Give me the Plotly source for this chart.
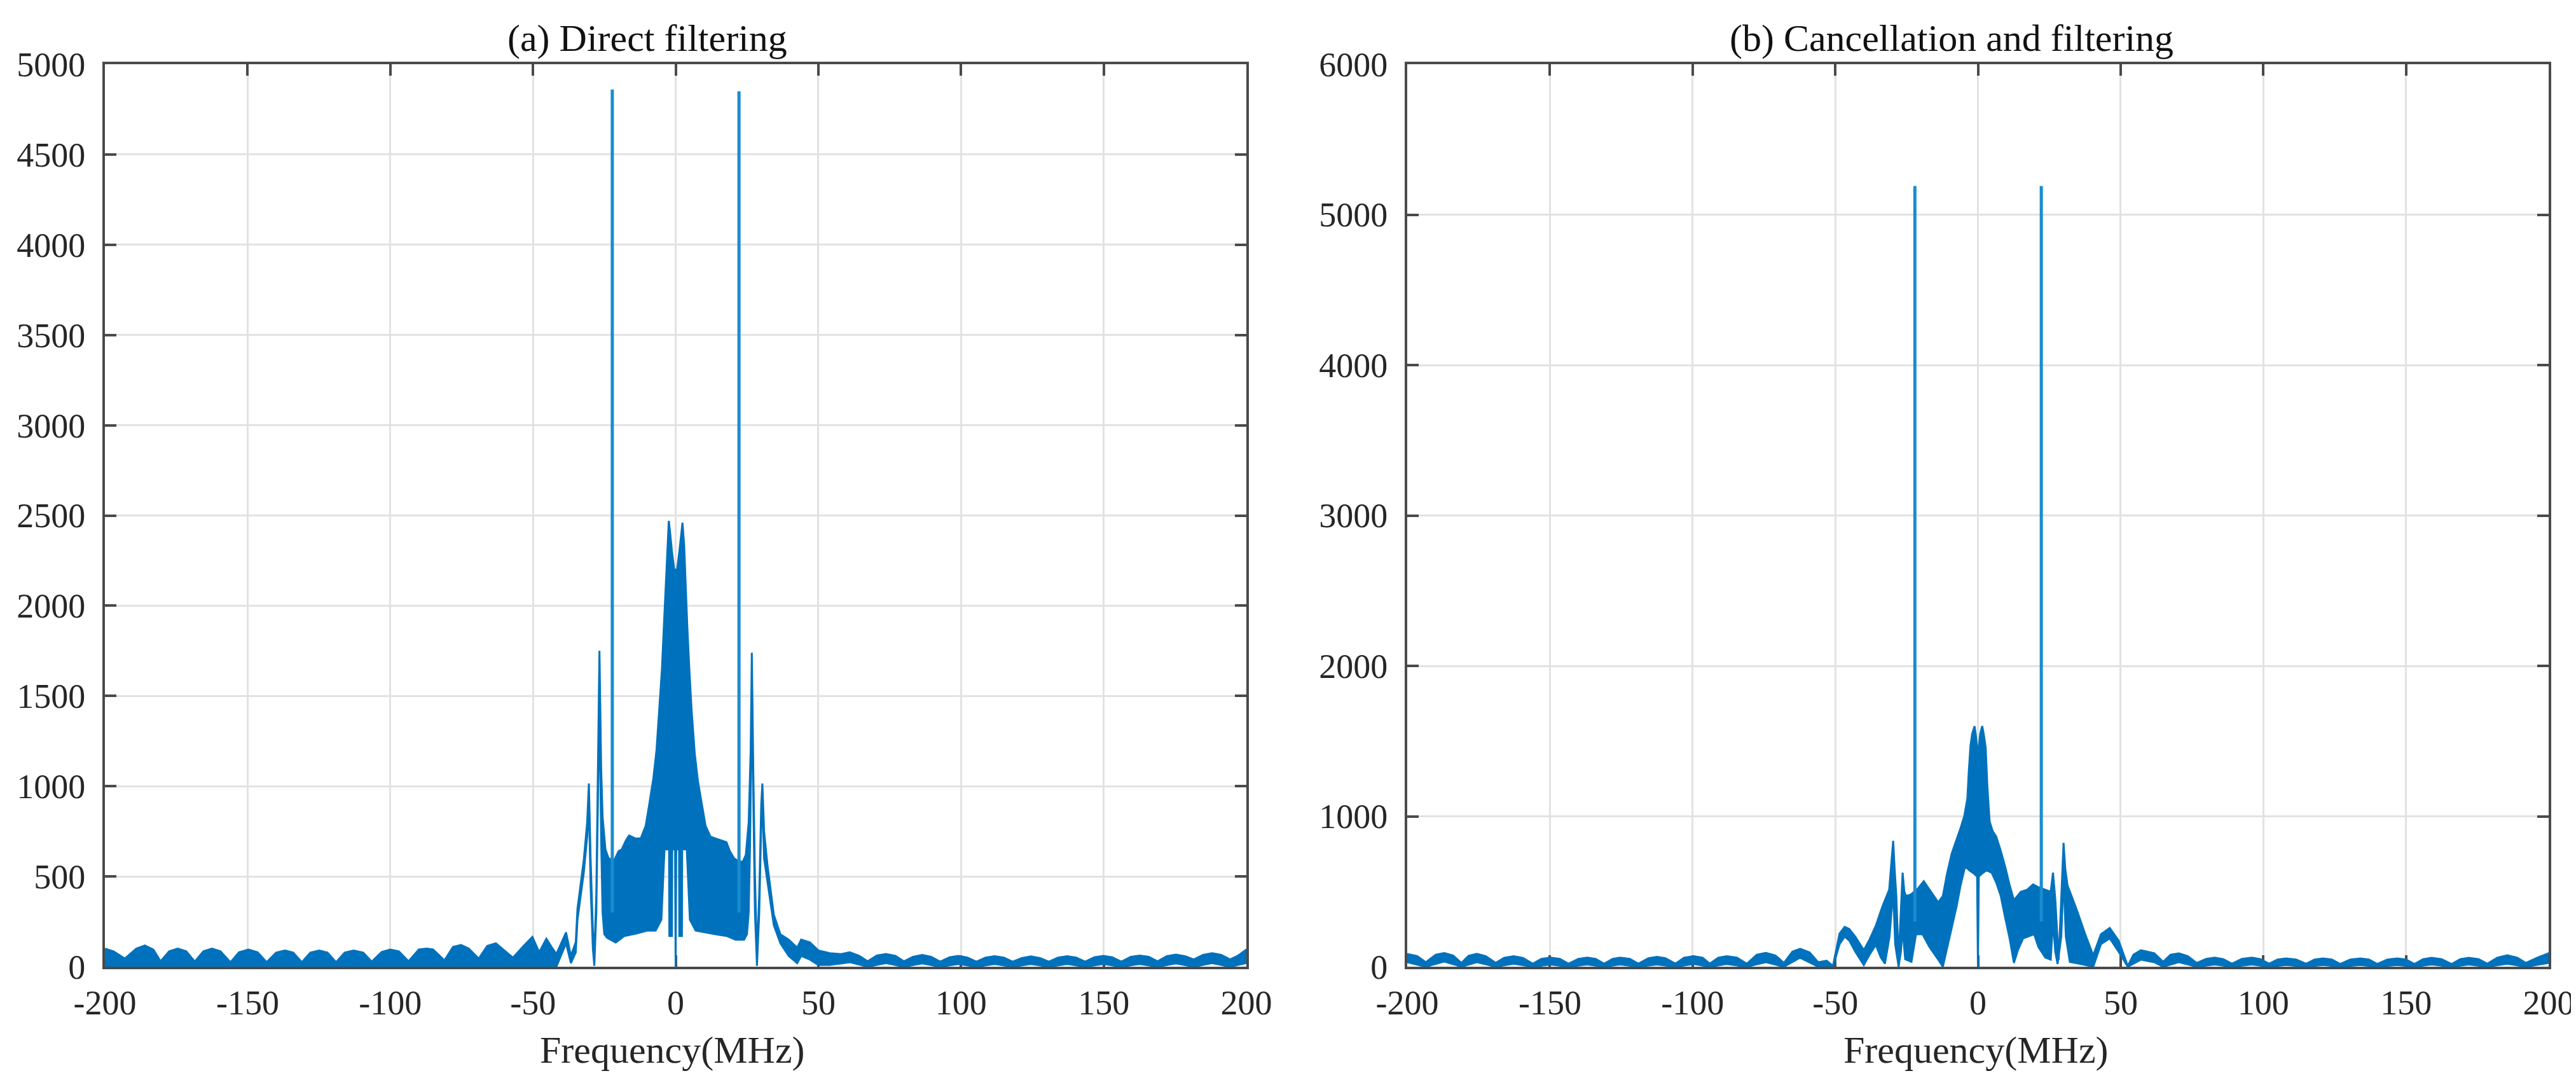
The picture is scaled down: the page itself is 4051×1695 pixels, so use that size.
import plotly.graph_objects as go

# ---------------- DATA ----------------
# Panel (a) Direct filtering: upper envelope of the dense spectrum (MHz, amplitude)
a_upper = [
    (-200, 100), (-197, 85), (-193, 45), (-189, 100), (-186, 118), (-183, 95), (-180.5, 30),
    (-177.5, 85), (-174.5, 100), (-171.5, 85), (-168.5, 28), (-165.5, 85), (-162.5, 100),
    (-159.5, 85), (-156, 25), (-153, 80), (-149.7, 95), (-146.5, 80), (-143.3, 25), (-140, 78),
    (-136.9, 90), (-134, 78), (-131, 25), (-128, 78), (-124.9, 90), (-122, 78), (-119, 25),
    (-116, 78), (-112.8, 90), (-109.5, 78), (-106.5, 28), (-103, 82), (-100, 95), (-97, 85),
    (-93.6, 30), (-90, 95), (-87.2, 100), (-85, 95), (-81, 35), (-78, 110), (-75.2, 120),
    (-72.5, 100), (-69, 45), (-66, 115), (-63, 130), (-60, 90), (-57, 50), (-53, 120),
    (-50.2, 165), (-47.8, 80), (-45.3, 155), (-43.5, 110), (-41.8, 70), (-38.4, 190),
    (-36.7, 60), (-35, 137), (-34.4, 320), (-32.2, 590), (-31, 800), (-30.4, 1015),
    (-29.8, 600), (-29, 200), (-28.5, 60), (-27.8, 400), (-27.2, 1200), (-26.7, 1750),
    (-26.1, 1100), (-25.6, 830), (-24.6, 650), (-23.5, 600), (-21.5, 590), (-20, 640),
    (-18.9, 650), (-17.4, 700), (-16.3, 727), (-14, 710), (-12.2, 712), (-10.5, 780),
    (-9.3, 894), (-7.8, 1045), (-6.7, 1200), (-5.6, 1440), (-4.8, 1650), (-4.1, 1894),
    (-3.5, 2100), (-3.0, 2318), (-2.4, 2470), (-1.9, 2400), (-1.3, 2300), (-0.5, 2200),
    (0, 2200), (0.5, 2200), (1.3, 2300), (2.0, 2400), (2.4, 2460), (3.0, 2330), (3.6, 2050),
    (4.1, 1880), (4.8, 1650), (5.6, 1420), (6.7, 1180), (7.8, 1030), (9.3, 890), (10.5, 780),
    (12.2, 720), (14, 710), (16.3, 700), (17.8, 690), (19, 640), (20.5, 600), (21.5, 590),
    (23.5, 580), (24.6, 620), (25.6, 800), (26.3, 1200), (26.7, 1740), (27.2, 1100),
    (27.8, 500), (28.5, 60), (29.3, 400), (30.0, 900), (30.4, 1015), (31, 750), (32.2, 560),
    (34.4, 288), (36.7, 180), (39.6, 150), (42.6, 105), (44, 150), (47, 135), (50, 90),
    (54, 75), (58, 70), (61, 80), (64.3, 60), (67.3, 30), (70.5, 62), (73.7, 70), (77, 60),
    (80, 30), (83.2, 55), (86.4, 65), (89.5, 55), (92.7, 28), (96, 52), (99.1, 60),
    (102.3, 50), (105.4, 28), (108.6, 50), (111.8, 58), (115, 50), (118.1, 28), (121.3, 48),
    (124.5, 57), (127.7, 48), (130.8, 28), (134, 50), (137.2, 58), (140.4, 50), (143.5, 28),
    (146.7, 52), (149.9, 60), (153, 52), (156.2, 28), (159.4, 54), (162.6, 62), (165.8, 55),
    (168.9, 30), (172.1, 58), (175.3, 67), (178.5, 58), (181.6, 40), (184.8, 65), (188, 75),
    (191.2, 65), (194.3, 40), (197, 60), (200, 95),
]
# Panel (a): lower envelope of the dense spectrum
a_lower = [
    (-200, 0), (-41.8, 0), (-38.4, 130), (-36.7, 20), (-35, 80), (-34.4, 260), (-32.2, 520),
    (-31, 720), (-30.4, 900), (-29.8, 450), (-29, 100), (-28.5, 5), (-27.8, 300), (-27.2, 1000),
    (-26.7, 1500), (-26.1, 700), (-25.6, 300), (-25, 180), (-24, 160), (-21, 134), (-18, 170),
    (-14, 183), (-10, 200), (-7, 200), (-5, 260), (-3.9, 650), (-2.3, 650), (-2.2, 170),
    (-1.3, 170), (-1.2, 650), (-0.2, 650), (0, 0), (0.2, 650), (1.2, 650), (1.3, 170),
    (2.2, 170), (2.3, 650), (3.9, 650), (5, 260), (7, 200), (10, 190), (14, 180), (18, 170),
    (21, 150), (24, 150), (25, 180), (25.6, 300), (26.1, 700), (26.7, 1500), (27.2, 900),
    (27.8, 300), (28.5, 5), (29.3, 300), (30, 800), (30.4, 900), (31, 600), (32.2, 480),
    (34.4, 230), (36.7, 130), (39.6, 60), (42.6, 20), (44, 60), (47, 40), (50, 10), (54, 10),
    (61, 25), (67.3, 0), (73.7, 20), (80, 0), (86.4, 18), (92.7, 0), (99.1, 15), (105.4, 0),
    (111.8, 15), (118.1, 0), (124.5, 15), (130.8, 0), (137.2, 15), (143.5, 0), (149.9, 15),
    (156.2, 0), (162.6, 15), (168.9, 0), (175.3, 18), (181.6, 0), (188, 20), (194.3, 0),
    (200, 20),
]
spike_freq_a = [-22.2, 22.2]
spike_amp_a = [4860, 4850]

# Panel (b) Cancellation and filtering: upper envelope
b_upper = [
    (-200, 85), (-196.5, 70), (-193.5, 30), (-190, 80), (-187, 91), (-184, 75), (-181, 25),
    (-178.5, 72), (-175.6, 85), (-172.5, 70), (-169, 25), (-166, 60), (-162.7, 70), (-159.5, 58),
    (-156, 20), (-153, 52), (-149.8, 60), (-146.5, 52), (-143.5, 20), (-140, 52), (-136.9, 60),
    (-134, 52), (-131, 20), (-128, 52), (-125.4, 60), (-122, 52), (-119, 20), (-115.5, 56),
    (-112.5, 65), (-109.5, 56), (-106, 20), (-103, 60), (-99.6, 70), (-96.5, 60), (-94, 20),
    (-91, 60), (-88.1, 70), (-84.5, 60), (-81, 20), (-77.5, 80), (-74.3, 92), (-71, 75),
    (-68, 25), (-65, 100), (-62.3, 119), (-59, 95), (-56, 30), (-53, 40), (-50.8, 5),
    (-48.5, 220), (-46.7, 265), (-45.1, 251), (-43, 200), (-40, 110), (-38, 180), (-35.8, 272),
    (-33.5, 400), (-31.1, 512), (-30.3, 700), (-29.7, 837), (-29.2, 650), (-28.6, 470),
    (-27.8, 47), (-27, 400), (-26.4, 625), (-25.8, 500), (-25.2, 470), (-23.5, 480), (-21, 520),
    (-19, 569), (-17, 512), (-15.5, 470), (-13.9, 428), (-12.3, 470), (-10.8, 620), (-9.2, 752),
    (-7.5, 840), (-6.1, 921), (-4.8, 1000), (-3.7, 1119), (-3.2, 1300), (-2.6, 1472),
    (-2.0, 1550), (-1.2, 1599), (-0.8, 1550), (-0.3, 1460), (0, 1460), (0.3, 1460), (0.8, 1550),
    (1.5, 1600), (2.0, 1550), (2.7, 1458), (3.3, 1200), (4.1, 964), (5.2, 900), (6.4, 865),
    (8, 770), (9.5, 667), (11, 550), (12.6, 442), (13.8, 470), (15, 498), (17.3, 512),
    (19.3, 547), (21, 530), (23.6, 512), (25.5, 498), (26.3, 625), (27.1, 450), (28.3, 47),
    (29, 400), (30, 823), (30.6, 650), (31.4, 540), (34.5, 385), (37.6, 216), (40.4, 75),
    (43.1, 216), (46.2, 258), (49.3, 174), (52.5, 5), (54.5, 80), (57.1, 110), (61.8, 89),
    (64.9, 32), (67.5, 80), (70.4, 89), (73.5, 70), (76.7, 25), (80, 52), (83, 60), (86, 50),
    (89, 20), (92.5, 52), (96, 60), (99, 50), (102, 20), (105, 48), (108, 55), (111.5, 48),
    (115, 20), (118, 48), (121, 55), (124, 48), (127, 18), (130.5, 48), (134, 55), (137, 48),
    (140, 18), (143.5, 48), (147, 55), (150, 48), (153, 18), (156, 50), (159, 59), (162.5, 50),
    (166, 18), (169, 50), (172, 59), (175.5, 50), (178.5, 20), (182, 60), (185.5, 76),
    (189, 60), (192, 25), (196, 60), (200, 89),
]
# Panel (b): lower envelope
b_lower = [
    (-200, 30), (-193.5, 0), (-187, 35), (-181, 0), (-175.6, 30), (-169, 0), (-162.7, 20),
    (-156, 0), (-149.8, 15), (-143.5, 0), (-136.9, 15), (-131, 0), (-125.4, 15), (-119, 0),
    (-112.5, 15), (-106, 0), (-99.6, 18), (-94, 0), (-88.1, 18), (-81, 0), (-74.3, 30),
    (-68, 0), (-62.3, 60), (-56, 0), (-50.8, 0), (-48.5, 150), (-46.7, 200), (-45.1, 174),
    (-43, 100), (-40, 11), (-38, 80), (-35.8, 145), (-34, 60), (-32.6, 20), (-31, 200),
    (-29.7, 500), (-29, 150), (-27.8, 0), (-27, 100), (-26.4, 250), (-25.5, 50), (-23.3, 32),
    (-21.7, 216), (-19.4, 216), (-17, 131), (-13.9, 47), (-12.3, 0), (-10.8, 120), (-9.2, 258),
    (-7.5, 400), (-6.1, 540), (-4.5, 667), (-3, 640), (-1.5, 620), (-0.3, 600), (0, 0),
    (0.3, 600), (1.5, 620), (3, 640), (4.8, 625), (6.4, 560), (8, 470), (9.5, 330), (11.1, 188),
    (12.6, 25), (14, 110), (15.8, 188), (19.7, 216), (21.2, 131), (23.6, 61), (25.5, 47),
    (26.3, 300), (27.1, 100), (27.9, 18), (29.2, 200), (30, 600), (30.8, 200), (32.2, 32),
    (36.1, 18), (40.4, 0), (43.1, 150), (46.2, 188), (49.3, 100), (52.5, 0), (57.1, 47),
    (61.8, 30), (64.9, 0), (70.4, 30), (76.7, 0), (83, 15), (89, 0), (96, 15), (102, 0),
    (108, 12), (115, 0), (121, 12), (127, 0), (134, 12), (140, 0), (147, 12), (153, 0),
    (159, 15), (166, 0), (172, 15), (178.5, 0), (185.5, 20), (192, 0), (200, 25),
]
spike_freq_b = [-22.1, 22.2]
spike_amp_b = [5190, 5190]

x_ticks = [-200, -150, -100, -50, 0, 50, 100, 150, 200]
y_ticks_a = [0, 500, 1000, 1500, 2000, 2500, 3000, 3500, 4000, 4500, 5000]
y_ticks_b = [0, 1000, 2000, 3000, 4000, 5000, 6000]
titles = ["(a) Direct filtering", "(b) Cancellation and filtering"]
x_label = "Frequency(MHz)"

# ---------------- STYLE ----------------
W, H = 4051, 1695
BAND = "#0072BD"
SPIKE = "#1A8CD0"
AXC = "#4A4A4A"
GRID = "#E2E2E2"
SERIF = "Liberation Serif, Times New Roman, serif"


def band_trace(upper, lower, xa, ya):
    xs = [p[0] for p in upper] + [p[0] for p in lower[::-1]]
    ys = [p[1] for p in upper] + [p[1] for p in lower[::-1]]
    return go.Scatter(x=xs, y=ys, mode="lines", fill="toself", fillcolor=BAND,
                      line=dict(color=BAND, width=3), xaxis=xa, yaxis=ya,
                      hoverinfo="skip", showlegend=False)


def spike_trace(freqs, amps, base, xa, ya):
    xs, ys = [], []
    for f, a in zip(freqs, amps):
        xs += [f, f, None]
        ys += [base, a, None]
    return go.Scatter(x=xs, y=ys, mode="lines", line=dict(color=SPIKE, width=5),
                      xaxis=xa, yaxis=ya, hoverinfo="skip", showlegend=False)


fig = go.Figure()
fig.add_trace(band_trace(a_upper, a_lower, "x", "y"))
fig.add_trace(spike_trace(spike_freq_a, spike_amp_a, 300, "x", "y"))
fig.add_trace(band_trace(b_upper, b_lower, "x2", "y2"))
fig.add_trace(spike_trace(spike_freq_b, spike_amp_b, 300, "x2", "y2"))

x0a, x1a = 157 / W, 1952 / W
x0b, x1b = 2205 / W, 4000 / W
y0, y1 = 1 - 1512 / H, 1 - 93 / H

common_x = dict(range=[-200, 200], tickvals=x_ticks, ticktext=[str(v) for v in x_ticks],
                showgrid=True, gridcolor=GRID, gridwidth=3, zeroline=False,
                showline=True, linecolor=AXC, linewidth=4, mirror="ticks",
                ticks="inside", ticklen=18, tickwidth=4, tickcolor=AXC,
                tickfont=dict(family=SERIF, size=54, color="#262626"),
                ticklabelstandoff=6, layer="below traces", automargin=False)
common_y = dict(showgrid=True, gridcolor=GRID, gridwidth=3, zeroline=False,
                showline=True, linecolor=AXC, linewidth=4, mirror="ticks",
                ticks="inside", ticklen=18, tickwidth=4, tickcolor=AXC,
                tickfont=dict(family=SERIF, size=54, color="#262626"),
                ticklabelstandoff=16, layer="below traces", automargin=False)

fig.update_layout(
    width=W, height=H, autosize=False,
    margin=dict(l=0, r=0, t=0, b=0, pad=0),
    paper_bgcolor="white", plot_bgcolor="white",
    xaxis=dict(domain=[x0a, x1a], anchor="y", **common_x),
    yaxis=dict(domain=[y0, y1], anchor="x", range=[0, 5000], tickvals=y_ticks_a,
               ticktext=[str(v) for v in y_ticks_a], **common_y),
    xaxis2=dict(domain=[x0b, x1b], anchor="y2", **common_x),
    yaxis2=dict(domain=[y0, y1], anchor="x2", range=[0, 6000], tickvals=y_ticks_b,
                ticktext=[str(v) for v in y_ticks_b], **common_y),
)

title_x = [1010 / W, 3061 / W]
label_x = [1049 / W, 3099 / W]
for i in range(2):
    fig.add_annotation(text=titles[i], x=title_x[i], y=1 - 52 / H, xref="paper", yref="paper",
                       showarrow=False, xanchor="center", yanchor="middle",
                       font=dict(family=SERIF, size=60, color="#111111"))
    fig.add_annotation(text=x_label, x=label_x[i], y=1 - 1643 / H, xref="paper", yref="paper",
                       showarrow=False, xanchor="center", yanchor="middle",
                       font=dict(family=SERIF, size=60, color="#262626"))

fig.write_html("out.html")
